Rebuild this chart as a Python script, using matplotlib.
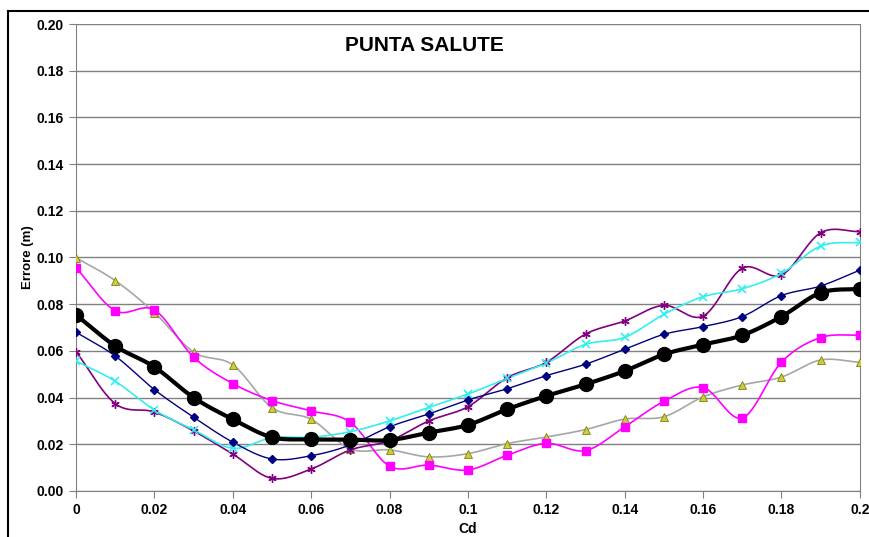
import numpy as np
import matplotlib.pyplot as plt
from matplotlib.lines import Line2D

# Cd values and errors (m) for each series
cd = [0, 0.01, 0.02, 0.03, 0.04, 0.05, 0.06, 0.07, 0.08, 0.09, 0.10,
      0.11, 0.12, 0.13, 0.14, 0.15, 0.16, 0.17, 0.18, 0.19, 0.20]

err_mean = [0.0754, 0.0621, 0.0531, 0.0400, 0.0307, 0.0230, 0.0221, 0.0220, 0.0218, 0.0250, 0.0283,
            0.0350, 0.0407, 0.0457, 0.0514, 0.0585, 0.0627, 0.0667, 0.0747, 0.0849, 0.0866]
err_navy = [0.0680, 0.0578, 0.0434, 0.0316, 0.0209, 0.0137, 0.0151, 0.0197, 0.0275, 0.0330, 0.0390,
            0.0438, 0.0494, 0.0543, 0.0607, 0.0671, 0.0704, 0.0747, 0.0837, 0.0878, 0.0946]
err_magenta = [0.0956, 0.0772, 0.0775, 0.0573, 0.0460, 0.0387, 0.0343, 0.0294, 0.0106, 0.0111, 0.0090,
               0.0153, 0.0204, 0.0173, 0.0275, 0.0384, 0.0443, 0.0313, 0.0552, 0.0657, 0.0668]
err_gray = [0.0999, 0.0901, 0.0764, 0.0595, 0.0540, 0.0357, 0.0307, 0.0180, 0.0176, 0.0146, 0.0160,
            0.0203, 0.0231, 0.0263, 0.0308, 0.0318, 0.0403, 0.0454, 0.0488, 0.0561, 0.0551]
err_cyan = [0.0557, 0.0470, 0.0347, 0.0262, 0.0183, 0.0228, 0.0230, 0.0254, 0.0300, 0.0358, 0.0415,
            0.0482, 0.0548, 0.0628, 0.0658, 0.0757, 0.0832, 0.0866, 0.0932, 0.1049, 0.1065]
err_purple = [0.0597, 0.0374, 0.0338, 0.0257, 0.0158, 0.0054, 0.0094, 0.0176, 0.0215, 0.0300, 0.0361,
              0.0485, 0.0551, 0.0672, 0.0728, 0.0795, 0.0749, 0.0954, 0.0925, 0.1106, 0.1111]

x_ticks = [0, 0.02, 0.04, 0.06, 0.08, 0.1, 0.12, 0.14, 0.16, 0.18, 0.2]
x_labels = ["0", "0.02", "0.04", "0.06", "0.08", "0.1", "0.12", "0.14", "0.16", "0.18", "0.2"]
y_ticks = [0, 0.02, 0.04, 0.06, 0.08, 0.10, 0.12, 0.14, 0.16, 0.18, 0.20]


def smooth(x, y, n=24):
    # catmull-rom curve through the points, like the spreadsheet "smoothed line"
    x = np.asarray(x, float)
    y = np.asarray(y, float)
    px = np.concatenate([[2 * x[0] - x[1]], x, [2 * x[-1] - x[-2]]])
    py = np.concatenate([[2 * y[0] - y[1]], y, [2 * y[-1] - y[-2]]])
    t = np.linspace(0, 1, n, endpoint=False)
    xs, ys = [], []
    for i in range(1, len(px) - 2):
        for p, out in ((px, xs), (py, ys)):
            p0, p1, p2, p3 = p[i - 1], p[i], p[i + 1], p[i + 2]
            out.extend(0.5 * (2 * p1 + (-p0 + p2) * t
                              + (2 * p0 - 5 * p1 + 4 * p2 - p3) * t ** 2
                              + (-p0 + 3 * p1 - 3 * p2 + p3) * t ** 3))
    xs.append(x[-1])
    ys.append(y[-1])
    return np.array(xs), np.array(ys)


plt.rcParams['font.family'] = ['Liberation Sans', 'DejaVu Sans']
fig = plt.figure(figsize=(8.69, 5.37), dpi=100)
ax = fig.add_axes([0.0875, 0.0857, 0.902, 0.8696])

series = [
    (err_gray, dict(color="#a6a6a6", lw=1.2), dict(marker="^", ms=5.5, mfc="#cccc44", mec="#808000", mew=0.6)),
    (err_magenta, dict(color="#ff00ff", lw=1.2), dict(marker="s", ms=5.5, mfc="#ff00ff", mec="#ff00ff")),
    (err_purple, dict(color="#800080", lw=1.2), dict(marker=(6, 2, 0), ms=6, mfc="none", mec="#800080", mew=1.0)),
    (err_cyan, dict(color="#33eeee", lw=1.2), dict(marker="x", ms=5.5, mec="#33eeee", mew=1.2)),
    (err_navy, dict(color="#000080", lw=1.0), dict(marker="D", ms=4, mfc="#000080", mec="#000080")),
    (err_mean, dict(color="black", lw=3.0), dict(marker="o", ms=10, mfc="black", mec="black")),
]
for vals, lstyle, mstyle in series:
    sx, sy = smooth(cd, vals)
    ax.plot(sx, sy, zorder=3, **lstyle)
    ax.plot(cd, vals, ls="none", zorder=4, **mstyle)

ax.set_xlim(0, 0.2)
ax.set_ylim(0, 0.2)
ax.set_xticks(x_ticks)
ax.set_xticklabels(x_labels)
ax.set_yticks(y_ticks)
ax.set_yticklabels([f"{v:.2f}" for v in y_ticks])
ax.tick_params(axis="both", direction="out", length=5, color="#808080", labelsize=10, pad=4)
for lab in ax.get_xticklabels() + ax.get_yticklabels():
    lab.set_fontweight("bold")
ax.yaxis.grid(True, color="#808080", lw=1.0)
ax.set_axisbelow(True)
for side in ("left", "bottom", "right"):
    ax.spines[side].set_color("#808080")
ax.spines["top"].set_visible(False)

ax.set_xlabel("Cd", fontsize=10, fontweight="bold", labelpad=3)
ax.set_ylabel("Errore (m)", fontsize=9.5, fontweight="bold", labelpad=2)
ax.text(0.444, 0.955, "PUNTA SALUTE", transform=ax.transAxes, ha="center", va="center",
        fontsize=15, fontweight="bold")

# outer chart frame (left and top edges visible)
fig.add_artist(Line2D([0.0092, 0.0092], [-0.05, 0.9795], transform=fig.transFigure, color="black", lw=1.5))
fig.add_artist(Line2D([0.0092, 1.05], [0.9795, 0.9795], transform=fig.transFigure, color="black", lw=1.5))

fig.savefig("out.png", dpi=100)
